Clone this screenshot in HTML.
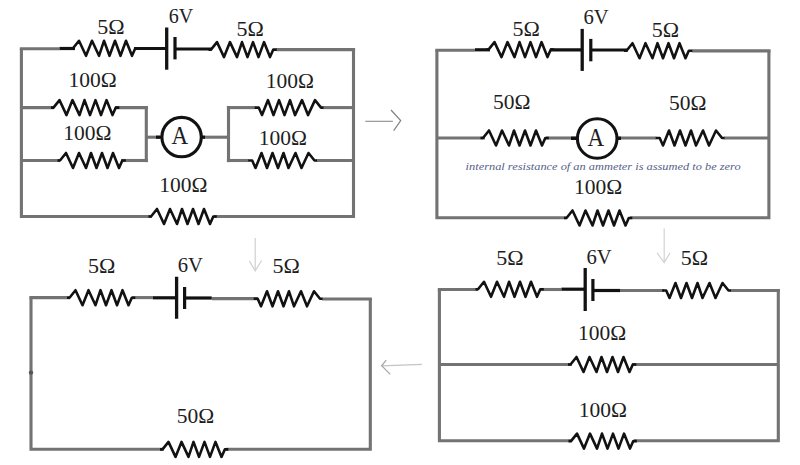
<!DOCTYPE html>
<html><head><meta charset="utf-8"><style>
html,body{margin:0;padding:0;background:#fff;}
svg{display:block;}
text{font-family:"Liberation Serif",serif;}
</style></head><body>
<svg width="800" height="465" viewBox="0 0 800 465">
<rect width="800" height="465" fill="#fff"/>
<path d="M21.4,48.7 V216.5 H152 M214,216.5 H353.5 V48.7" fill="none" stroke="#737373" stroke-width="3.1" stroke-linejoin="miter"/>
<line x1="19.799999999999997" y1="48.7" x2="59.5" y2="48.7" stroke="#737373" stroke-width="3.1" stroke-linecap="butt"/>
<line x1="276.3" y1="49.6" x2="355.1" y2="49.6" stroke="#737373" stroke-width="3.1" stroke-linecap="butt"/>
<line x1="21.4" y1="107.6" x2="54" y2="107.6" stroke="#737373" stroke-width="3.1" stroke-linecap="butt"/>
<line x1="115" y1="107.6" x2="147.9" y2="107.6" stroke="#737373" stroke-width="3.1" stroke-linecap="butt"/>
<line x1="21.4" y1="160.5" x2="60" y2="160.5" stroke="#737373" stroke-width="3.1" stroke-linecap="butt"/>
<line x1="121" y1="160.5" x2="147.9" y2="160.5" stroke="#737373" stroke-width="3.1" stroke-linecap="butt"/>
<line x1="146.3" y1="106.0" x2="146.3" y2="162.1" stroke="#737373" stroke-width="3.1" stroke-linecap="butt"/>
<line x1="146.3" y1="137.2" x2="160" y2="137.2" stroke="#737373" stroke-width="3.1" stroke-linecap="butt"/>
<line x1="202" y1="137.2" x2="228.5" y2="137.2" stroke="#737373" stroke-width="3.1" stroke-linecap="butt"/>
<line x1="228.5" y1="106.0" x2="228.5" y2="162.1" stroke="#737373" stroke-width="3.1" stroke-linecap="butt"/>
<line x1="226.9" y1="107.6" x2="255.2" y2="107.6" stroke="#737373" stroke-width="3.1" stroke-linecap="butt"/>
<line x1="323.0" y1="107.6" x2="353.5" y2="107.6" stroke="#737373" stroke-width="3.1" stroke-linecap="butt"/>
<line x1="226.9" y1="160.5" x2="248.7" y2="160.5" stroke="#737373" stroke-width="3.1" stroke-linecap="butt"/>
<line x1="316.5" y1="160.5" x2="353.5" y2="160.5" stroke="#737373" stroke-width="3.1" stroke-linecap="butt"/>
<path d="M436.9,50.3 V217.7 H567 M630,217.7 H768.9 V50.3" fill="none" stroke="#737373" stroke-width="3.1" stroke-linejoin="miter"/>
<line x1="435.29999999999995" y1="50.3" x2="475" y2="50.3" stroke="#737373" stroke-width="3.1" stroke-linecap="butt"/>
<line x1="691.8" y1="50.9" x2="770.5" y2="50.9" stroke="#737373" stroke-width="3.1" stroke-linecap="butt"/>
<line x1="436.9" y1="138" x2="485" y2="138" stroke="#737373" stroke-width="3.1" stroke-linecap="butt"/>
<line x1="546" y1="138" x2="576" y2="138" stroke="#737373" stroke-width="3.1" stroke-linecap="butt"/>
<line x1="618" y1="138" x2="656.2" y2="138" stroke="#737373" stroke-width="3.1" stroke-linecap="butt"/>
<line x1="724.0" y1="138" x2="768.9" y2="138" stroke="#737373" stroke-width="3.1" stroke-linecap="butt"/>
<path d="M439.4,289.5 V440.7 H572 M634,440.7 H778.3 V289.5" fill="none" stroke="#737373" stroke-width="3.1" stroke-linejoin="miter"/>
<line x1="437.79999999999995" y1="289.5" x2="478" y2="289.5" stroke="#737373" stroke-width="3.1" stroke-linecap="butt"/>
<line x1="540" y1="289.5" x2="561.4" y2="289.5" stroke="#737373" stroke-width="3.1" stroke-linecap="butt"/>
<line x1="620" y1="290.5" x2="664" y2="290.5" stroke="#737373" stroke-width="3.1" stroke-linecap="butt"/>
<line x1="730.5" y1="290.5" x2="779.9" y2="290.5" stroke="#737373" stroke-width="3.1" stroke-linecap="butt"/>
<line x1="439.4" y1="364.5" x2="572" y2="364.5" stroke="#737373" stroke-width="3.1" stroke-linecap="butt"/>
<line x1="632" y1="364.5" x2="778.3" y2="364.5" stroke="#737373" stroke-width="3.1" stroke-linecap="butt"/>
<path d="M31,297.6 V449.2 H164 M226,449.2 H370.3 V299.0" fill="none" stroke="#737373" stroke-width="3.1" stroke-linejoin="miter"/>
<line x1="29.4" y1="297.6" x2="70" y2="297.6" stroke="#737373" stroke-width="3.1" stroke-linecap="butt"/>
<line x1="132" y1="297.6" x2="153" y2="297.6" stroke="#737373" stroke-width="3.1" stroke-linecap="butt"/>
<line x1="211.75" y1="298.6" x2="258" y2="298.6" stroke="#737373" stroke-width="3.1" stroke-linecap="butt"/>
<line x1="322.0" y1="299" x2="371.90000000000003" y2="299" stroke="#737373" stroke-width="3.1" stroke-linecap="butt"/>
<line x1="59.5" y1="48.5" x2="75" y2="48.5" stroke="#121212" stroke-width="3.2" stroke-linecap="butt"/>
<polyline points="70.50,48.30 73.00,48.30 79.00,40.80 86.00,55.80 92.00,40.80 99.00,55.80 104.00,40.80 109.50,55.80 115.00,40.80 120.50,55.80 126.00,40.80 132.00,55.80 135.30,48.30 138.80,48.30" fill="none" stroke="#121212" stroke-width="2.6" stroke-linejoin="round"/>
<line x1="134" y1="48.5" x2="166.7" y2="48.5" stroke="#121212" stroke-width="3.2" stroke-linecap="butt"/>
<line x1="166.7" y1="27.5" x2="166.7" y2="69.7" stroke="#121212" stroke-width="3.3" stroke-linecap="butt"/>
<line x1="175" y1="37" x2="175" y2="59.4" stroke="#121212" stroke-width="3.2" stroke-linecap="butt"/>
<line x1="175" y1="49" x2="212" y2="49" stroke="#121212" stroke-width="3.2" stroke-linecap="butt"/>
<polyline points="208.50,49.60 211.00,49.60 217.00,42.10 224.00,57.10 230.00,42.10 237.00,57.10 242.00,42.10 247.50,57.10 253.00,42.10 258.50,57.10 264.00,42.10 270.00,57.10 273.30,49.60 276.80,49.60" fill="none" stroke="#121212" stroke-width="2.6" stroke-linejoin="round"/>
<polyline points="51.00,107.60 53.50,107.60 59.50,100.10 66.50,115.10 72.50,100.10 79.50,115.10 84.50,100.10 90.00,115.10 95.50,100.10 101.00,115.10 106.50,100.10 112.50,115.10 115.80,107.60 119.30,107.60" fill="none" stroke="#121212" stroke-width="2.6" stroke-linejoin="round"/>
<polyline points="57.50,160.50 60.00,160.50 66.00,153.00 73.00,168.00 79.00,153.00 86.00,168.00 91.00,153.00 96.50,168.00 102.00,153.00 107.50,168.00 113.00,153.00 119.00,168.00 122.30,160.50 125.80,160.50" fill="none" stroke="#121212" stroke-width="2.6" stroke-linejoin="round"/>
<line x1="156" y1="137.2" x2="161" y2="137.2" stroke="#121212" stroke-width="3.2" stroke-linecap="butt"/>
<circle cx="181.6" cy="137.1" r="19.7" fill="#fff" stroke="#121212" stroke-width="3.1"/>
<line x1="201" y1="137.2" x2="205" y2="137.2" stroke="#121212" stroke-width="3.2" stroke-linecap="butt"/>
<polyline points="254.70,107.60 258.70,107.60 262.00,115.10 268.00,100.10 273.50,115.10 279.00,100.10 284.50,115.10 290.00,100.10 295.00,115.10 302.00,100.10 308.00,115.10 315.00,100.10 321.00,107.60 323.50,107.60" fill="none" stroke="#121212" stroke-width="2.6" stroke-linejoin="round"/>
<polyline points="248.20,160.50 252.20,160.50 255.50,168.00 261.50,153.00 267.00,168.00 272.50,153.00 278.00,168.00 283.50,153.00 288.50,168.00 295.50,153.00 301.50,168.00 308.50,153.00 314.50,160.50 317.00,160.50" fill="none" stroke="#121212" stroke-width="2.6" stroke-linejoin="round"/>
<polyline points="148.50,216.50 151.00,216.50 157.00,209.00 164.00,224.00 170.00,209.00 177.00,224.00 182.00,209.00 187.50,224.00 193.00,209.00 198.50,224.00 204.00,209.00 210.00,224.00 213.30,216.50 216.80,216.50" fill="none" stroke="#121212" stroke-width="2.6" stroke-linejoin="round"/>
<text transform="matrix(1.1 0 0 1 97.30 33.90)" font-size="20" fill="#1e1e1e">5Ω</text>
<text transform="matrix(1.0 0 0 1 168.70 23.20)" font-size="20" fill="#1e1e1e">6V</text>
<text transform="matrix(1.1 0 0 1 236.50 35.60)" font-size="20" fill="#1e1e1e">5Ω</text>
<text transform="matrix(1.075 0 0 1 68.45 87.00)" font-size="20" fill="#1e1e1e">100Ω</text>
<text transform="matrix(1.075 0 0 1 63.35 140.00)" font-size="20" fill="#1e1e1e">100Ω</text>
<text transform="matrix(1.075 0 0 1 265.65 88.40)" font-size="20" fill="#1e1e1e">100Ω</text>
<text transform="matrix(1.075 0 0 1 258.85 144.70)" font-size="20" fill="#1e1e1e">100Ω</text>
<text transform="matrix(1.075 0 0 1 159.35 192.20)" font-size="20" fill="#1e1e1e">100Ω</text>
<text transform="matrix(0.9 0 0 1 171.60 143.70)" font-size="25.5" fill="#1e1e1e">A</text>
<line x1="475" y1="49.8" x2="490" y2="49.8" stroke="#121212" stroke-width="3.2" stroke-linecap="butt"/>
<polyline points="486.00,49.60 488.50,49.60 494.50,42.10 501.50,57.10 507.50,42.10 514.50,57.10 519.50,42.10 525.00,57.10 530.50,42.10 536.00,57.10 541.50,42.10 547.50,57.10 550.80,49.60 554.30,49.60" fill="none" stroke="#121212" stroke-width="2.6" stroke-linejoin="round"/>
<line x1="550" y1="49.8" x2="582.2" y2="49.8" stroke="#121212" stroke-width="3.2" stroke-linecap="butt"/>
<line x1="582.2" y1="28.9" x2="582.2" y2="70.9" stroke="#121212" stroke-width="3.3" stroke-linecap="butt"/>
<line x1="590.8" y1="38.9" x2="590.8" y2="61.3" stroke="#121212" stroke-width="3.2" stroke-linecap="butt"/>
<line x1="590.8" y1="50" x2="628" y2="50" stroke="#121212" stroke-width="3.2" stroke-linecap="butt"/>
<polyline points="624.00,50.70 626.50,50.70 632.50,43.20 639.50,58.20 645.50,43.20 652.50,58.20 657.50,43.20 663.00,58.20 668.50,43.20 674.00,58.20 679.50,43.20 685.50,58.20 688.80,50.70 692.30,50.70" fill="none" stroke="#121212" stroke-width="2.6" stroke-linejoin="round"/>
<polyline points="480.50,138.00 483.00,138.00 489.00,130.50 496.00,145.50 502.00,130.50 509.00,145.50 514.00,130.50 519.50,145.50 525.00,130.50 530.50,145.50 536.00,130.50 542.00,145.50 545.30,138.00 548.80,138.00" fill="none" stroke="#121212" stroke-width="2.6" stroke-linejoin="round"/>
<line x1="571" y1="138.3" x2="577" y2="138.3" stroke="#121212" stroke-width="3.4" stroke-linecap="butt"/>
<line x1="617" y1="138.3" x2="621" y2="138.3" stroke="#121212" stroke-width="3.4" stroke-linecap="butt"/>
<circle cx="597.2" cy="138.5" r="19.8" fill="#fff" stroke="#121212" stroke-width="3.1"/>
<polyline points="655.70,138.00 659.70,138.00 663.00,145.50 669.00,130.50 674.50,145.50 680.00,130.50 685.50,145.50 691.00,130.50 696.00,145.50 703.00,130.50 709.00,145.50 716.00,130.50 722.00,138.00 724.50,138.00" fill="none" stroke="#121212" stroke-width="2.6" stroke-linejoin="round"/>
<polyline points="564.00,218.00 566.50,218.00 572.50,210.50 579.50,225.50 585.50,210.50 592.50,225.50 597.50,210.50 603.00,225.50 608.50,210.50 614.00,225.50 619.50,210.50 625.50,225.50 628.80,218.00 632.30,218.00" fill="none" stroke="#121212" stroke-width="2.6" stroke-linejoin="round"/>
<text transform="matrix(1.1 0 0 1 512.50 35.90)" font-size="20" fill="#1e1e1e">5Ω</text>
<text transform="matrix(1.03 0 0 1 583.57 24.20)" font-size="20" fill="#1e1e1e">6V</text>
<text transform="matrix(1.1 0 0 1 651.80 36.75)" font-size="20" fill="#1e1e1e">5Ω</text>
<text transform="matrix(1.075 0 0 1 492.93 109.25)" font-size="20" fill="#1e1e1e">50Ω</text>
<text transform="matrix(1.075 0 0 1 668.92 110.25)" font-size="20" fill="#1e1e1e">50Ω</text>
<text transform="matrix(0.9 0 0 1 587.60 145.50)" font-size="25.5" fill="#1e1e1e">A</text>
<text transform="matrix(1.075 0 0 1 573.95 193.50)" font-size="20" fill="#1e1e1e">100Ω</text>
<text x="465.6" y="169.6" font-size="10.5" fill="#56608a" font-style="italic" textLength="275" lengthAdjust="spacingAndGlyphs">internal resistance of an ammeter is assumed to be zero</text>
<polyline points="475.50,289.30 478.00,289.30 484.00,281.80 491.00,296.80 497.00,281.80 504.00,296.80 509.00,281.80 514.50,296.80 520.00,281.80 525.50,296.80 531.00,281.80 537.00,296.80 540.30,289.30 543.80,289.30" fill="none" stroke="#121212" stroke-width="2.6" stroke-linejoin="round"/>
<line x1="561.4" y1="289.2" x2="585.2" y2="289.2" stroke="#121212" stroke-width="3.2" stroke-linecap="butt"/>
<line x1="585.2" y1="268" x2="585.2" y2="311" stroke="#121212" stroke-width="3.3" stroke-linecap="butt"/>
<line x1="592.9" y1="279" x2="592.9" y2="301" stroke="#121212" stroke-width="3.2" stroke-linecap="butt"/>
<line x1="592.9" y1="290.5" x2="620" y2="290.5" stroke="#121212" stroke-width="3.2" stroke-linecap="butt"/>
<polyline points="662.20,290.50 666.20,290.50 669.50,298.00 675.50,283.00 681.00,298.00 686.50,283.00 692.00,298.00 697.50,283.00 702.50,298.00 709.50,283.00 715.50,298.00 722.50,283.00 728.50,290.50 731.00,290.50" fill="none" stroke="#121212" stroke-width="2.6" stroke-linejoin="round"/>
<polyline points="568.00,364.50 570.50,364.50 576.50,357.00 583.50,372.00 589.50,357.00 596.50,372.00 601.50,357.00 607.00,372.00 612.50,357.00 618.00,372.00 623.50,357.00 629.50,372.00 632.80,364.50 636.30,364.50" fill="none" stroke="#121212" stroke-width="2.6" stroke-linejoin="round"/>
<polyline points="568.50,441.10 571.00,441.10 577.00,433.60 584.00,448.60 590.00,433.60 597.00,448.60 602.00,433.60 607.50,448.60 613.00,433.60 618.50,448.60 624.00,433.60 630.00,448.60 633.30,441.10 636.80,441.10" fill="none" stroke="#121212" stroke-width="2.6" stroke-linejoin="round"/>
<text transform="matrix(1.1 0 0 1 496.30 264.50)" font-size="20" fill="#1e1e1e">5Ω</text>
<text transform="matrix(1.03 0 0 1 586.57 263.60)" font-size="20" fill="#1e1e1e">6V</text>
<text transform="matrix(1.1 0 0 1 680.80 264.90)" font-size="20" fill="#1e1e1e">5Ω</text>
<text transform="matrix(1.075 0 0 1 577.95 340.30)" font-size="20" fill="#1e1e1e">100Ω</text>
<text transform="matrix(1.075 0 0 1 578.85 416.80)" font-size="20" fill="#1e1e1e">100Ω</text>
<polyline points="67.00,297.70 69.50,297.70 75.50,290.20 82.50,305.20 88.50,290.20 95.50,305.20 100.50,290.20 106.00,305.20 111.50,290.20 117.00,305.20 122.50,290.20 128.50,305.20 131.80,297.70 135.30,297.70" fill="none" stroke="#121212" stroke-width="2.6" stroke-linejoin="round"/>
<line x1="153" y1="297.8" x2="176.6" y2="297.8" stroke="#121212" stroke-width="3.2" stroke-linecap="butt"/>
<line x1="176.6" y1="276.75" x2="176.6" y2="318.75" stroke="#121212" stroke-width="3.3" stroke-linecap="butt"/>
<line x1="184.6" y1="287" x2="184.6" y2="309" stroke="#121212" stroke-width="3.2" stroke-linecap="butt"/>
<line x1="184.6" y1="298" x2="211.75" y2="298" stroke="#121212" stroke-width="3.2" stroke-linecap="butt"/>
<polyline points="253.70,298.80 257.70,298.80 261.00,306.30 267.00,291.30 272.50,306.30 278.00,291.30 283.50,306.30 289.00,291.30 294.00,306.30 301.00,291.30 307.00,306.30 314.00,291.30 320.00,298.80 322.50,298.80" fill="none" stroke="#121212" stroke-width="2.6" stroke-linejoin="round"/>
<polyline points="160.00,449.40 162.50,449.40 168.50,441.90 175.50,456.90 181.50,441.90 188.50,456.90 193.50,441.90 199.00,456.90 204.50,441.90 210.00,456.90 215.50,441.90 221.50,456.90 224.80,449.40 228.30,449.40" fill="none" stroke="#121212" stroke-width="2.6" stroke-linejoin="round"/>
<text transform="matrix(1.1 0 0 1 88.00 272.90)" font-size="20" fill="#1e1e1e">5Ω</text>
<text transform="matrix(1.03 0 0 1 177.82 272.40)" font-size="20" fill="#1e1e1e">6V</text>
<text transform="matrix(1.1 0 0 1 272.50 273.30)" font-size="20" fill="#1e1e1e">5Ω</text>
<text transform="matrix(1.075 0 0 1 176.83 423.00)" font-size="20" fill="#1e1e1e">50Ω</text>
<circle cx="31" cy="372.6" r="2.2" fill="#555"/>
<polyline points="365.3,121.3 392.9,121.3" fill="none" stroke="#8c8c8c" stroke-width="1.1"/>
<polyline points="391,110 400.7,120.6 393.7,130.6" fill="none" stroke="#808080" stroke-width="1.2"/>
<polyline points="664.2,228.4 664.2,262.6" fill="none" stroke="#d2d2d2" stroke-width="1.2"/>
<polyline points="657.1,252.9 664.2,262.6 670,252.9" fill="none" stroke="#d2d2d2" stroke-width="1.2"/>
<polyline points="381.65,365.8 421.9,364.3" fill="none" stroke="#c4c4c4" stroke-width="1.2"/>
<polyline points="386.2,360.15 381.65,365.8 390.3,374.4" fill="none" stroke="#a4a4a4" stroke-width="1.2"/>
<polyline points="255.2,237.9 255.2,270.8" fill="none" stroke="#d0d0d0" stroke-width="1.2"/>
<polyline points="249.4,261.1 255.2,270.8 261.6,260.5" fill="none" stroke="#d0d0d0" stroke-width="1.2"/>
</svg>
</body></html>
